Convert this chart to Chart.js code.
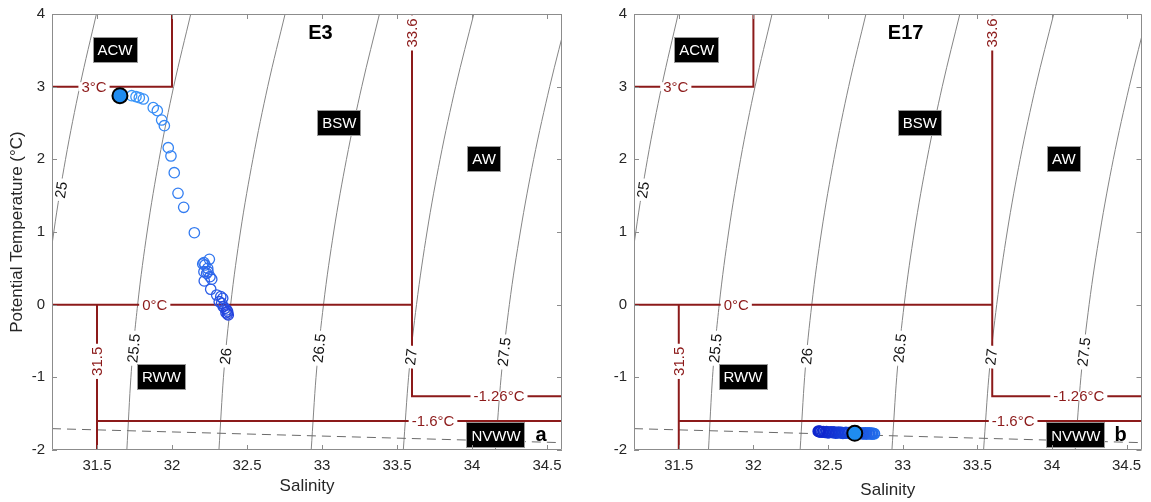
<!DOCTYPE html>
<html>
<head>
<meta charset="utf-8">
<script src="https://cdn.jsdelivr.net/npm/chart.js@4.4.1/dist/chart.umd.min.js"></script>
<style>
  html, body { margin: 0; padding: 0; background: #ffffff; }
  #wrap { position: relative; width: 1151px; height: 502px; overflow: hidden; }
  canvas { position: absolute; top: 0; }
</style>
</head>
<body>
<div id="wrap">
  <canvas id="panelE3" width="580" height="502" style="left:0px"></canvas>
  <canvas id="panelE17" width="571" height="502" style="left:580px"></canvas>
</div>
<script>
// ---------- axis ticks ----------
const salinityTicks = [31.5, 32, 32.5, 33, 33.5, 34, 34.5];
const temperatureTicks = [-2, -1, 0, 1, 2, 3, 4];

// ---------- isopycnals (sigma-theta), salinity at each tabulated temperature ----------
const isoTemps = [-2, -1, 0, 1, 2, 3, 4];
const sigma25_0 = [31.084, 31.109, 31.151, 31.212, 31.290, 31.385, 31.496];
const sigma25_5 = [31.699, 31.726, 31.771, 31.834, 31.914, 32.011, 32.125];
const sigma26_0 = [32.313, 32.343, 32.391, 32.456, 32.539, 32.638, 32.754];
const sigma26_5 = [32.928, 32.960, 33.010, 33.078, 33.163, 33.265, 33.383];
const sigma27_0 = [33.542, 33.577, 33.630, 33.700, 33.787, 33.891, 34.012];
const sigma27_5 = [34.156, 34.194, 34.249, 34.322, 34.411, 34.518, 34.640];
const isoNames = ['25', '25.5', '26', '26.5', '27', '27.5'];
const isoCurves = [sigma25_0, sigma25_5, sigma26_0, sigma26_5, sigma27_0, sigma27_5];
// where each contour carries its label
const isoLabelSal = [31.26, 31.744, 32.357, 32.98, 33.592, 34.213];
const isoLabelTemp = [1.58, -0.60, -0.71, -0.60, -0.72, -0.65];

// ---------- surface freezing line ----------
const freezeSal = [31.2, 34.6];
const freezeTemp = [-1.706, -1.899];

// ---------- water-mass boundaries ----------
const acwSal = [31.2, 32.0, 32.0];    const acwTemp = [3, 3, 4];
const zeroSal = [31.2, 33.6];         const zeroTemp = [0, 0];
const awSal = [33.6, 33.6, 34.6];     const awTemp = [4, -1.26, -1.26];
const rwwSal = [31.5, 31.5];          const rwwTemp = [0, -2];
const nvwwSal = [31.5, 34.6];         const nvwwTemp = [-1.6, -1.6];

// labels sitting on the boundaries
const boundaryText = ['3°C', '0°C', '33.6', '-1.26°C', '31.5', '-1.6°C'];
const boundaryAnchorSal = [31.48, 31.885, 33.6, 34.18, 31.5, 33.74];
const boundaryAnchorTemp = [3, 0, 3.74, -1.26, -0.78, -1.6];
const boundaryVertical = [false, false, true, false, true, false];

// water-mass names
const massNames = ['ACW', 'BSW', 'AW', 'RWW', 'NVWW'];
const massAnchorSal = [31.62, 33.115, 34.08, 31.93, 34.16];
const massAnchorTemp = [3.5, 2.5, 2.0, -1.0, -1.80];

// ---------- station E3 profile ----------
const e3Sal = [31.731, 31.760, 31.782, 31.809, 31.875, 31.902, 31.931, 31.949, 31.975, 31.993,
               32.015, 32.040, 32.078, 32.149, 32.249, 32.213, 32.205, 32.220, 32.238, 32.240,
               32.213, 32.231, 32.253, 32.265, 32.215, 32.258, 32.298, 32.325, 32.338, 32.315,
               32.331, 32.342, 32.353, 32.365, 32.360, 32.371, 32.369, 32.375];
const e3Temp = [2.876, 2.862, 2.848, 2.830, 2.711, 2.670, 2.541, 2.463, 2.160, 2.046,
                1.816, 1.533, 1.340, 0.990, 0.624, 0.578, 0.560, 0.546, 0.500, 0.454,
                0.454, 0.432, 0.385, 0.350, 0.326, 0.212, 0.133, 0.110, 0.088, 0.041,
                0.019, -0.028, -0.050, -0.073, -0.110, -0.097, -0.128, -0.142];
const e3SurfaceSal = [31.653];
const e3SurfaceTemp = [2.876];

// ---------- station E17 profile ----------
const e17Sal = [32.81, 32.80, 32.795, 32.79, 32.78, 32.775, 32.77, 32.76, 32.755, 32.75,
                32.74, 32.735, 32.73, 32.72, 32.71, 32.70, 32.695, 32.69, 32.68, 32.67,
                32.66, 32.655, 32.64, 32.63, 32.62, 32.61, 32.60, 32.59, 32.58, 32.57,
                32.56, 32.55, 32.54, 32.53, 32.52, 32.51, 32.50, 32.49, 32.48, 32.47,
                32.46, 32.45, 32.445, 32.44, 32.435];
const e17Temp = [-1.776, -1.772, -1.779, -1.770, -1.777, -1.767, -1.774, -1.771, -1.779, -1.766,
                 -1.773, -1.768, -1.776, -1.770, -1.765, -1.772, -1.778, -1.766, -1.771, -1.763,
                 -1.769, -1.775, -1.762, -1.767, -1.759, -1.765, -1.770, -1.758, -1.763, -1.756,
                 -1.761, -1.766, -1.754, -1.759, -1.752, -1.757, -1.762, -1.750, -1.755, -1.748,
                 -1.753, -1.745, -1.750, -1.747, -1.743];
const e17SurfaceSal = [32.679];
const e17SurfaceTemp = [-1.77];

// ---------- drawing ----------
const FONT = "'Liberation Sans', Arial, Helvetica, sans-serif";
const INK = '#262626';
const RED = '#8c1a1a';
const FRAME = '#8c8c8c';

function pts(sal, temp) {
  return sal.map((s, i) => ({ x: s, y: temp[i] }));
}

function mix(a, b, f) {
  const c = a.map((v, i) => Math.round(v + (b[i] - v) * f));
  return `rgb(${c[0]},${c[1]},${c[2]})`;
}

// text centred on a point, optionally rotated, with a narrow white band that breaks the line beneath
function gapLabel(ctx, text, x, y, angle, font, color, band) {
  ctx.save();
  ctx.translate(x, y);
  ctx.rotate(angle);
  ctx.font = font;
  const w = ctx.measureText(text).width;
  ctx.fillStyle = '#ffffff';
  ctx.fillRect(-w / 2 - 3, -band / 2, w + 6, band);
  ctx.fillStyle = color;
  ctx.textAlign = 'center';
  ctx.textBaseline = 'middle';
  ctx.fillText(text, 0, 1);
  ctx.restore();
}

function isoAngle(chart, curve, t) {
  const xs = chart.scales.x, ys = chart.scales.y;
  let i = 0;
  while (i < isoTemps.length - 2 && isoTemps[i + 1] < t) i++;
  const dx = xs.getPixelForValue(curve[i + 1]) - xs.getPixelForValue(curve[i]);
  const dy = ys.getPixelForValue(isoTemps[i + 1]) - ys.getPixelForValue(isoTemps[i]);
  return Math.atan2(dy, dx);
}

function buildPanel(id, cfg) {
  const datasets = [];
  isoCurves.forEach(curve => datasets.push({
    data: pts(curve, isoTemps), showLine: true, pointRadius: 0, borderWidth: 1,
    borderColor: '#858585', cubicInterpolationMode: 'monotone', order: 5
  }));
  datasets.push({
    data: pts(freezeSal, freezeTemp), showLine: true, pointRadius: 0, borderWidth: 1,
    borderColor: '#6a6a6a', borderDash: [9, 6], order: 4
  });
  [[acwSal, acwTemp], [zeroSal, zeroTemp], [awSal, awTemp], [rwwSal, rwwTemp], [nvwwSal, nvwwTemp]]
    .forEach(b => datasets.push({
      data: pts(b[0], b[1]), showLine: true, pointRadius: 0, borderWidth: 2,
      borderColor: RED, order: 3
    }));
  const n = cfg.sal.length;
  datasets.push({
    data: pts(cfg.sal, cfg.temp), showLine: false, pointRadius: 5.2, pointBorderWidth: cfg.ringWidth,
    pointBackgroundColor: 'rgba(0,0,0,0)',
    pointBorderColor: c => mix(cfg.lightShade, cfg.darkShade, n > 1 ? c.dataIndex / (n - 1) : 0),
    order: 2
  });
  datasets.push({
    data: pts(cfg.surfSal, cfg.surfTemp), showLine: false, pointRadius: 7.5, pointBorderWidth: 2,
    pointBackgroundColor: '#1f8cf0', pointBorderColor: '#000000', order: 1
  });

  const decorations = {
    id: 'tsDecorations',
    afterDatasetsDraw(chart) {
      const ctx = chart.ctx, xs = chart.scales.x, ys = chart.scales.y;
      // contour labels
      isoNames.forEach((name, i) => {
        const x = xs.getPixelForValue(isoLabelSal[i]);
        const y = ys.getPixelForValue(isoLabelTemp[i]);
        const ang = isoAngle(chart, isoCurves[i], isoLabelTemp[i]);
        gapLabel(ctx, name, x, y, ang, `15px ${FONT}`, '#111111', 9);
      });
      // boundary labels
      boundaryText.forEach((t, i) => {
        const x = xs.getPixelForValue(boundaryAnchorSal[i]);
        const y = ys.getPixelForValue(boundaryAnchorTemp[i]);
        gapLabel(ctx, t, x, y, boundaryVertical[i] ? -Math.PI / 2 : 0, `15px ${FONT}`, RED, 9);
      });
      // water-mass name boxes
      ctx.save();
      ctx.font = `15px ${FONT}`;
      ctx.textAlign = 'center';
      ctx.textBaseline = 'middle';
      massNames.forEach((m, i) => {
        const x = xs.getPixelForValue(massAnchorSal[i]);
        const y = ys.getPixelForValue(massAnchorTemp[i]);
        const w = ctx.measureText(m).width + 8, h = 24;
        ctx.fillStyle = '#000000';
        ctx.fillRect(Math.round(x - w / 2), Math.round(y - h / 2), Math.round(w), h);
        ctx.strokeStyle = '#9a9a9a';
        ctx.lineWidth = 1;
        ctx.strokeRect(Math.round(x - w / 2) - 0.5, Math.round(y - h / 2) - 0.5, Math.round(w) + 1, h + 1);
        ctx.fillStyle = '#ffffff';
        ctx.fillText(m, x, y + 1);
      });
      // station name and panel letter
      ctx.fillStyle = '#000000';
      ctx.font = `bold 20px ${FONT}`;
      ctx.fillText(cfg.station, xs.getPixelForValue(cfg.stationSal), ys.getPixelForValue(3.73));
      ctx.fillText(cfg.letter, xs.getPixelForValue(34.46), ys.getPixelForValue(-1.80));
      ctx.restore();
    },
    afterDraw(chart) {
      const ctx = chart.ctx, a = chart.chartArea, xs = chart.scales.x, ys = chart.scales.y;
      ctx.save();
      ctx.strokeStyle = FRAME;
      ctx.lineWidth = 1;
      ctx.beginPath();
      ctx.rect(Math.round(a.left) + 0.5, Math.round(a.top) + 0.5,
               Math.round(a.right - a.left) - 1, Math.round(a.bottom - a.top) - 1);
      salinityTicks.forEach(v => {
        const x = Math.round(xs.getPixelForValue(v)) + 0.5;
        ctx.moveTo(x, a.bottom); ctx.lineTo(x, a.bottom - 5);
        ctx.moveTo(x, a.top); ctx.lineTo(x, a.top + 5);
      });
      temperatureTicks.forEach(v => {
        const y = Math.round(ys.getPixelForValue(v)) + 0.5;
        ctx.moveTo(a.left, y); ctx.lineTo(a.left + 5, y);
        ctx.moveTo(a.right, y); ctx.lineTo(a.right - 5, y);
      });
      ctx.stroke();
      // axis titles
      ctx.fillStyle = INK;
      ctx.font = `17px ${FONT}`;
      ctx.textAlign = 'center';
      ctx.textBaseline = 'middle';
      ctx.fillText('Salinity', (a.left + a.right) / 2, a.bottom + cfg.salTitleGap);
      if (cfg.yTitle) {
        ctx.translate(17, (a.top + a.bottom) / 2);
        ctx.rotate(-Math.PI / 2);
        ctx.fillText('Potential Temperature (°C)', 0, 0);
      }
      ctx.restore();
    }
  };

  return new Chart(document.getElementById(id), {
    type: 'scatter',
    data: { datasets },
    options: {
      responsive: false,
      animation: false,
      events: [],
      layout: { padding: { left: 0, right: cfg.padRight, top: 14, bottom: 0 } },
      plugins: { legend: { display: false }, tooltip: { enabled: false } },
      scales: {
        x: {
          type: 'linear', min: 31.2, max: 34.6,
          grid: { display: false, drawTicks: false }, border: { display: false },
          ticks: { autoSkip: false, padding: 7, color: INK, font: { family: FONT, size: 15 },
                   callback: v => String(v) },
          afterBuildTicks: s => { s.ticks = salinityTicks.map(v => ({ value: v })); },
          afterFit: s => { s.height = 52; s.paddingLeft = 0; s.paddingRight = 0; }
        },
        y: {
          type: 'linear', min: -2, max: 4,
          grid: { display: false, drawTicks: false }, border: { display: false },
          ticks: { autoSkip: false, padding: 7, color: INK, font: { family: FONT, size: 15 },
                   callback: v => String(v) },
          afterBuildTicks: s => { s.ticks = temperatureTicks.map(v => ({ value: v })); },
          afterFit: s => { s.width = cfg.areaLeft; s.paddingTop = 0; s.paddingBottom = 0; }
        }
      }
    },
    plugins: [decorations]
  });
}

buildPanel('panelE3', {
  station: 'E3', stationSal: 32.99, letter: 'a',
  sal: e3Sal, temp: e3Temp, surfSal: e3SurfaceSal, surfTemp: e3SurfaceTemp,
  lightShade: [58, 152, 250], darkShade: [36, 66, 222], ringWidth: 1.3,
  areaLeft: 52, padRight: 18, yTitle: true, salTitleGap: 36
});

buildPanel('panelE17', {
  station: 'E17', stationSal: 33.02, letter: 'b',
  sal: e17Sal, temp: e17Temp, surfSal: e17SurfaceSal, surfTemp: e17SurfaceTemp,
  lightShade: [34, 112, 236], darkShade: [16, 38, 206], ringWidth: 1.6,
  areaLeft: 54, padRight: 4, yTitle: false, salTitleGap: 40
});
</script>
</body>
</html>
